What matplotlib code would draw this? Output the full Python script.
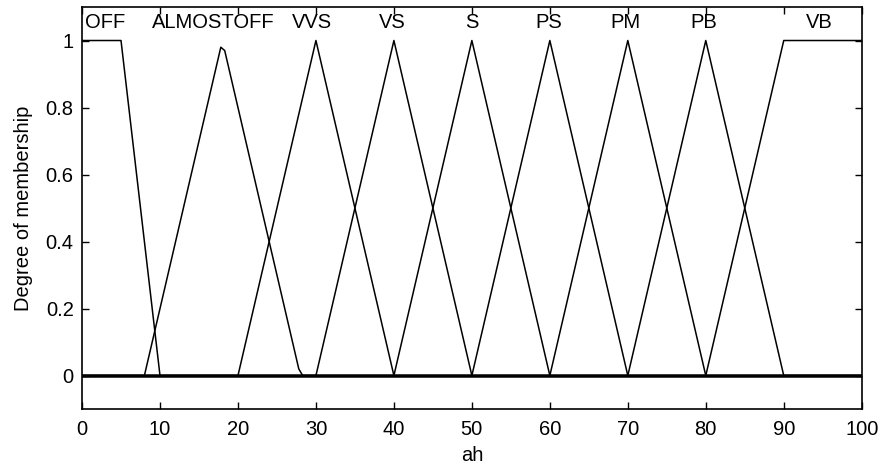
import matplotlib.pyplot as plt

plt.rcParams['font.family'] = ['Liberation Sans', 'DejaVu Sans']

# membership functions, vertices
names = ['OFF', 'ALMOSTOFF', 'VVS', 'VS', 'S', 'PS', 'PM', 'PB', 'VB']
mf_x = [
    [0, 5, 10, 100],
    [0, 8, 17.8, 18.3, 27.8, 28.3, 100],
    [0, 20, 30, 40, 100],
    [0, 30, 40, 50, 100],
    [0, 40, 50, 60, 100],
    [0, 50, 60, 70, 100],
    [0, 60, 70, 80, 100],
    [0, 70, 80, 90, 100],
    [0, 80, 90, 100],
]
mf_y = [
    [1, 1, 0, 0],
    [0, 0, 0.98, 0.97, 0.02, 0, 0],
    [0, 0, 1, 0, 0],
    [0, 0, 1, 0, 0],
    [0, 0, 1, 0, 0],
    [0, 0, 1, 0, 0],
    [0, 0, 1, 0, 0],
    [0, 0, 1, 0, 0],
    [0, 0, 1, 1],
]
label_x = [2.9, 16.8, 29.5, 39.8, 50, 59.8, 69.7, 79.7, 94.5]

fig = plt.figure(figsize=(8.82, 4.67), dpi=100)
ax = fig.add_axes([0.093, 0.124, 0.884, 0.861])

for xs, ys in zip(mf_x, mf_y):
    ax.plot(xs, ys, color='black', lw=1.1)
ax.axhline(0, color='black', lw=1.8)

fs = 14.5
for nm, lx in zip(names, label_x):
    ax.text(lx, 1.053, nm, ha='center', va='center', fontsize=fs)

ax.set_xlim(0, 100)
ax.set_ylim(-0.1, 1.1)
ax.set_xticks(range(0, 101, 10))
ax.set_yticks([0, 0.2, 0.4, 0.6, 0.8, 1])
ax.set_yticklabels(['0', '0.2', '0.4', '0.6', '0.8', '1'])
ax.tick_params(direction='in', top=True, right=True, length=5, width=1,
               labelsize=fs, pad=6)
ax.tick_params(axis='x', pad=8)
for s in ax.spines.values():
    s.set_linewidth(1.2)
ax.set_xlabel('ah', fontsize=fs, labelpad=5)
ax.set_ylabel('Degree of membership', fontsize=fs, labelpad=9)

plt.savefig('out.png', dpi=100)
